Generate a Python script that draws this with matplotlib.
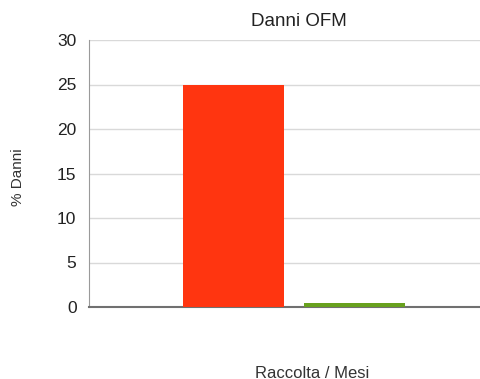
import numpy as np
import matplotlib
matplotlib.use('Agg')
import matplotlib.pyplot as plt

plt.rcParams['font.family'] = ['Liberation Sans', 'DejaVu Sans']

categories = ['A', 'B']
values = [25, 0.4]
colors = ['#FF3510', '#68A11E']
yticks = [0, 5, 10, 15, 20, 25, 30]

fig = plt.figure(figsize=(4.81, 3.79), dpi=100)
ax = fig.add_axes([89 / 481, 1 - 307 / 379, 392 / 481, 267 / 379])

x = np.arange(len(categories))
ax.bar(x, values, width=0.84, color=colors, zorder=3)
ax.set_xlim(-1.2, 2.05)
ax.set_ylim(0, 30)
ax.set_yticks(yticks)
ax.set_xticks([])
ax.yaxis.grid(True, color='#d9d9d9', linewidth=1, zorder=0)
ax.tick_params(axis='y', length=0, labelsize=12.5, colors='#222222', pad=9)
for s in ['top', 'right']:
    ax.spines[s].set_visible(False)
ax.spines['left'].set_color('#9a9a9a')
ax.spines['bottom'].set_color('#707070')
ax.spines['bottom'].set_linewidth(1.5)

fig.text(299 / 481, 1 - 21 / 379, 'Danni OFM', ha='center', va='center', fontsize=13.5, color='#222222')
fig.text(18 / 481, 1 - 177 / 379, '% Danni', ha='center', va='center', rotation=90, fontsize=11, color='#333333')
fig.text(312 / 481, 1 - 373 / 379, 'Raccolta / Mesi', ha='center', va='center', fontsize=12, color='#333333')

fig.savefig('out.png', dpi=100)
